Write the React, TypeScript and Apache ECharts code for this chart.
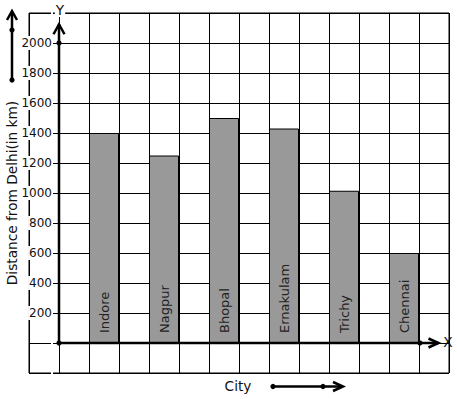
import React, { useEffect, useRef } from "react";
import * as echarts from "echarts";

const CITIES = ["Indore", "Nagpur", "Bhopal", "Ernakulam", "Trichy", "Chennai"];
const DISTANCES = [1400, 1250, 1500, 1430, 1015, 600];
const Y_MIN = -200;
const Y_MAX = 2200;
const Y_STEP = 200;
const Y_LABEL_MAX = 2000;
const X_MIN = -1;
const X_MAX = 13;
const Y_TITLE = "Distance from Delhi(in km)";
const X_TITLE = "City";

const FONT = "DejaVu Sans";

export default function App() {
  const ref = useRef<HTMLDivElement>(null);

  useEffect(() => {
    document.body.style.margin = "0";
    const chart = echarts.init(ref.current!, null, { renderer: "svg" });
    const barData = DISTANCES.map((v, i) => [2 * i + 1.5, v]);
    chart.setOption({
      animation: false,
      backgroundColor: "#fff",
      grid: {
        left: 29,
        top: 13,
        width: 420,
        height: 360,
        show: true,
        borderColor: "#000",
        borderWidth: 1,
        backgroundColor: "transparent",
      },
      xAxis: {
        type: "value",
        min: X_MIN,
        max: X_MAX,
        interval: 1,
        z: 0,
        axisLine: { show: false },
        axisTick: { show: false },
        axisLabel: { show: false },
        splitLine: { show: true, lineStyle: { color: "#000", width: 1 } },
      },
      yAxis: {
        type: "value",
        min: Y_MIN,
        max: Y_MAX,
        interval: Y_STEP,
        offset: -30,
        z: 1,
        axisLine: { show: false },
        axisTick: { show: false },
        axisLabel: {
          show: true,
          margin: 6,
          fontFamily: FONT,
          fontSize: 12,
          color: "#111",
          backgroundColor: "#fff",
          padding: [1, 1],
          formatter: (v: number) => (v > 0 && v <= Y_LABEL_MAX ? String(v) : ""),
        },
        splitLine: { show: true, lineStyle: { color: "#000", width: 1 } },
      },
      series: [
        {
          type: "bar",
          data: barData,
          barWidth: 30,
          z: 2,
          itemStyle: { color: "#999999", borderColor: "#000", borderWidth: 1 },
          label: {
            show: true,
            position: "insideBottom",
            rotate: 90,
            align: "left",
            verticalAlign: "middle",
            distance: 10,
            fontFamily: FONT,
            fontSize: 13,
            color: "#222",
            formatter: (p: any) => CITIES[p.dataIndex],
          },
        },
      ],
    });

    const px = (x: number, y: number) =>
      chart.convertToPixel({ gridIndex: 0 }, [x, y]) as number[];
    const o = px(0, 0);
    const yDot = px(0, Y_LABEL_MAX);
    const yTip = px(0, 2125);
    const xDot = px(12.03, 0);
    const xTip = px(12.65, 0);
    const LW = 2.5;
    const black = { stroke: "#000", lineWidth: LW, fill: "none" };
    const dot = (cx: number, cy: number) => ({
      type: "circle",
      z: 10,
      shape: { cx, cy, r: 2.6 },
      style: { fill: "#000" },
    });
    const line = (x1: number, y1: number, x2: number, y2: number) => ({
      type: "line",
      z: 10,
      shape: { x1, y1, x2, y2 },
      style: { stroke: "#000", lineWidth: LW },
    });
    const chevron = (pts: number[][]) => ({
      type: "polyline",
      z: 10,
      shape: { points: pts },
      style: black,
    });
    const text = (t: string, x: number, y: number, extra: any = {}) => ({
      type: "text",
      z: 11,
      x,
      y,
      ...extra,
      style: {
        text: t,
        fontFamily: FONT,
        fontSize: 13.7,
        fill: "#111",
        align: "center",
        verticalAlign: "middle",
        ...(extra.style || {}),
      },
    });

    chart.setOption({
      graphic: [
        // Y axis
        line(o[0], o[1], yTip[0], yTip[1]),
        chevron([
          [yTip[0] - 5.5, yTip[1] + 10],
          [yTip[0], yTip[1]],
          [yTip[0] + 5.5, yTip[1] + 10],
        ]),
        dot(o[0], o[1]),
        dot(yDot[0], yDot[1]),
        // X axis
        line(o[0], o[1], xTip[0], xTip[1]),
        chevron([
          [xTip[0] - 10, xTip[1] - 4.5],
          [xTip[0], xTip[1]],
          [xTip[0] - 10, xTip[1] + 4.5],
        ]),
        dot(xDot[0], xDot[1]),
        text("Y", yTip[0] + 1, 10, { style: { backgroundColor: "#fff", padding: [0, 1] } }),
        text("X", xTip[0] + 9.5, xTip[1] - 1),
        // y title decoration
        text(Y_TITLE, 12, 193, { rotation: Math.PI / 2 }),
        line(12, 80, 12, 12),
        chevron([
          [7, 20],
          [12, 11],
          [17, 20],
        ]),
        dot(12, 80),
        dot(12, 30),
        // x title decoration
        text(X_TITLE, 238, 386),
        line(273, 386.5, 342, 386.5),
        chevron([
          [333, 382],
          [343, 386.5],
          [333, 391],
        ]),
        dot(273, 386.5),
        dot(323, 386.5),
      ],
    });

    return () => chart.dispose();
  }, []);

  return <div ref={ref} style={{ width: 457, height: 399 }} />;
}
